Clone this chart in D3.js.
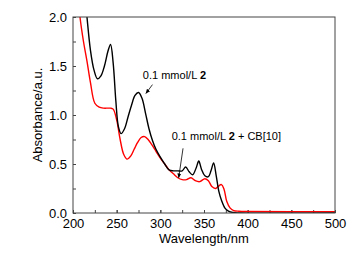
<!DOCTYPE html>
<html>
<head>
<meta charset="utf-8">
<script src="https://cdn.jsdelivr.net/npm/d3@7"></script>
<style>
  body { margin: 0; background: #fff; }
  svg text { font-family: "Liberation Sans", Arial, sans-serif; fill: #000; }
</style>
</head>
<body>
<div id="chart"></div>
<script>
// spectrum of 2 alone (black)
const blackNm = [205, 212, 216, 220, 224, 228, 232, 236, 240, 243, 246, 249, 252, 255, 259, 263, 267, 271, 275, 279, 283, 287, 291, 295, 300, 305, 310, 315, 320, 325, 329, 333, 337, 341, 344, 347, 351, 355, 358, 361, 364, 367, 370, 374, 378, 383, 390, 500];
const blackAbs = [3.0, 2.4, 2.0, 1.66, 1.46, 1.37, 1.40, 1.50, 1.65, 1.72, 1.53, 1.15, 0.88, 0.81, 0.86, 0.98, 1.10, 1.20, 1.23, 1.17, 1.02, 0.86, 0.74, 0.65, 0.57, 0.50, 0.44, 0.43, 0.43, 0.43, 0.47, 0.42, 0.39, 0.46, 0.53, 0.45, 0.38, 0.37, 0.43, 0.51, 0.38, 0.22, 0.13, 0.05, 0.02, 0.005, 0.0, 0.0];

// spectrum of 2 + CB[10] (red)
const redNm = [203, 208, 212, 216, 220, 225, 230, 235, 240, 243, 246, 250, 254, 258, 262, 266, 270, 274, 278, 282, 286, 290, 295, 300, 305, 310, 315, 320, 325, 330, 335, 340, 345, 351, 355, 359, 363, 366, 370, 373, 376, 380, 384, 390, 400, 500];
const redAbs = [2.5, 2.0, 1.75, 1.55, 1.33, 1.12, 1.08, 1.07, 1.07, 1.07, 1.06, 0.95, 0.75, 0.60, 0.55, 0.58, 0.65, 0.72, 0.77, 0.78, 0.75, 0.70, 0.63, 0.56, 0.50, 0.44, 0.40, 0.36, 0.34, 0.34, 0.36, 0.33, 0.32, 0.35, 0.33, 0.27, 0.25, 0.27, 0.29, 0.24, 0.12, 0.05, 0.025, 0.018, 0.015, 0.012];

const xTicks = [200, 250, 300, 350, 400, 450, 500];
const yTicks = [0.0, 0.5, 1.0, 1.5, 2.0];

const width = 354, height = 253;
const margin = { top: 17, right: 19, bottom: 40, left: 73 };
const plotW = width - margin.left - margin.right;
const plotH = height - margin.top - margin.bottom;

const svg = d3.select("#chart").append("svg")
    .attr("width", width)
    .attr("height", height);

svg.append("defs").append("clipPath").attr("id", "clip")
    .append("rect").attr("width", plotW).attr("height", plotH);

svg.select("defs").append("marker")
    .attr("id", "arrow")
    .attr("viewBox", "0 0 10 10")
    .attr("refX", 9).attr("refY", 5)
    .attr("markerWidth", 6).attr("markerHeight", 6)
    .attr("orient", "auto")
    .append("path").attr("d", "M0,1 L10,5 L0,9 Z").attr("fill", "#000");

const g = svg.append("g").attr("transform", `translate(${margin.left},${margin.top})`);

const x = d3.scaleLinear().domain([200, 500]).range([0, plotW]);
const y = d3.scaleLinear().domain([0, 2]).range([plotH, 0]);

// axes, ticks inward
function styleAxis(sel) {
    sel.select(".domain").remove();
    sel.selectAll(".tick line").attr("stroke", "#444");
    sel.selectAll("text").style("font-size", "13px");
}

g.append("g").attr("transform", `translate(0,${plotH})`)
    .call(d3.axisBottom(x).tickValues(d3.range(200, 501, 25)).tickSize(-3).tickFormat(""))
    .call(styleAxis);
g.append("g").attr("transform", `translate(0,${plotH})`)
    .call(d3.axisBottom(x).tickValues(xTicks).tickSize(-3).tickPadding(6).tickFormat(d3.format("d")))
    .call(styleAxis);

g.append("g")
    .call(d3.axisLeft(y).tickValues(d3.range(0, 2.01, 0.25)).tickSize(-3).tickFormat(""))
    .call(styleAxis);
g.append("g")
    .call(d3.axisLeft(y).tickValues(yTicks).tickSize(-3).tickPadding(6).tickFormat(d3.format(".1f")))
    .call(styleAxis);

const line = d3.line()
    .x(d => x(d[0]))
    .y(d => y(d[1]))
    .curve(d3.curveCatmullRom.alpha(0.5));

const plot = g.append("g").attr("clip-path", "url(#clip)");

plot.append("path")
    .datum(redNm.map((v, i) => [v, redAbs[i]]))
    .attr("d", line)
    .attr("fill", "none")
    .attr("stroke", "#ff0000")
    .attr("stroke-width", 1.4);

plot.append("path")
    .datum(blackNm.map((v, i) => [v, blackAbs[i]]))
    .attr("d", line)
    .attr("fill", "none")
    .attr("stroke", "#000")
    .attr("stroke-width", 1.4);

// frame
g.append("rect")
    .attr("width", plotW).attr("height", plotH)
    .attr("fill", "none").attr("stroke", "#444").attr("stroke-width", 1);

// annotations
const t1 = g.append("text").attr("x", x(280)).attr("y", y(1.37)).style("font-size", "11px");
t1.append("tspan").text("0.1 mmol/L ");
t1.append("tspan").attr("font-weight", "bold").text("2");

g.append("line")
    .attr("x1", x(291)).attr("y1", y(1.31))
    .attr("x2", x(283.5)).attr("y2", y(1.22))
    .attr("stroke", "#000").attr("stroke-width", 0.8)
    .attr("marker-end", "url(#arrow)");

const t2 = g.append("text").attr("x", x(313)).attr("y", y(0.74)).style("font-size", "11px");
t2.append("tspan").text("0.1 mmol/L ");
t2.append("tspan").attr("font-weight", "bold").text("2");
t2.append("tspan").text(" + CB[10]");

g.append("line")
    .attr("x1", x(326)).attr("y1", y(0.66))
    .attr("x2", x(321)).attr("y2", y(0.36))
    .attr("stroke", "#000").attr("stroke-width", 0.8)
    .attr("marker-end", "url(#arrow)");

// axis titles
svg.append("text")
    .attr("x", margin.left + plotW / 2)
    .attr("y", 243)
    .attr("text-anchor", "middle")
    .style("font-size", "13px")
    .text("Wavelength/nm");

svg.append("text")
    .attr("transform", `translate(42,${margin.top + plotH / 2}) rotate(-90)`)
    .attr("text-anchor", "middle")
    .style("font-size", "13px")
    .text("Absorbance/a.u.");
</script>
</body>
</html>
